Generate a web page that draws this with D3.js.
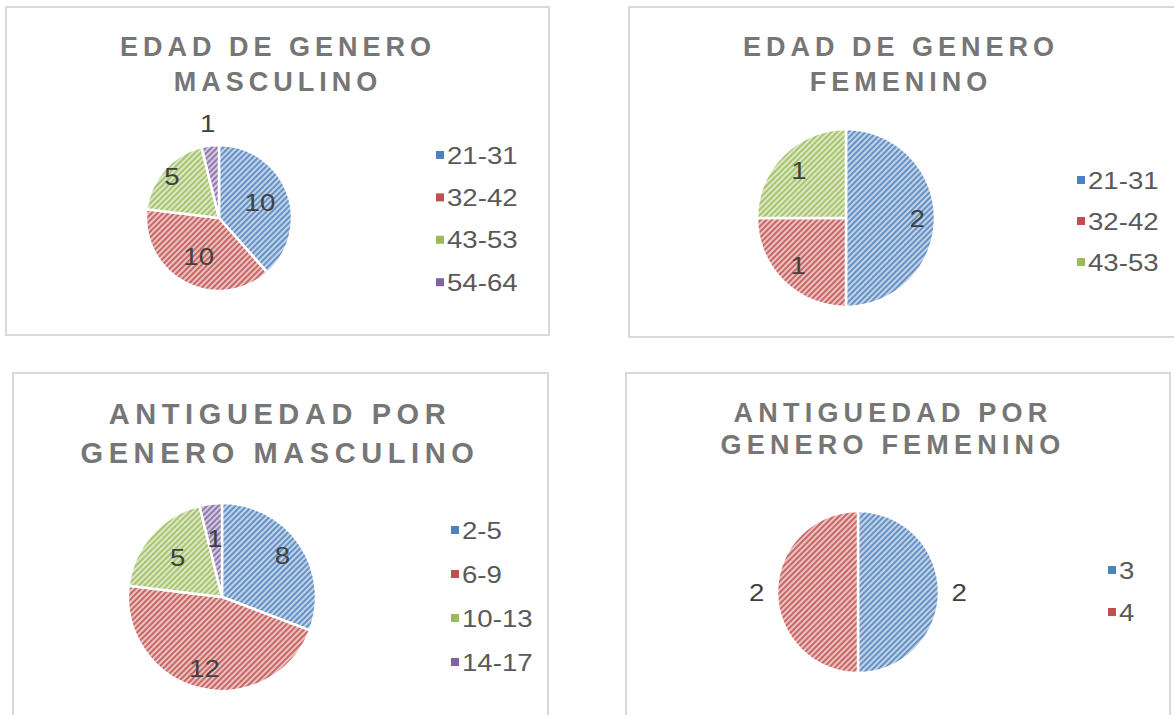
<!DOCTYPE html>
<html>
<head>
<meta charset="utf-8">
<script src="https://cdn.jsdelivr.net/npm/d3@7"></script>
<style>
  body { margin: 0; background: #fff; }
  svg { display: block; font-family: "Liberation Sans", Arial, sans-serif; }
</style>
</head>
<body>
<svg id="chart" width="1174" height="715"></svg>
<script>
// data
const edadCategorias = ["21-31", "32-42", "43-53", "54-64"];
const edadMasculino = [10, 10, 5, 1];
const edadFemCategorias = ["21-31", "32-42", "43-53"];
const edadFemenino = [2, 1, 1];
const antigMascCategorias = ["2-5", "6-9", "10-13", "14-17"];
const antigMasculino = [8, 12, 5, 1];
const antigFemCategorias = ["3", "4"];
const antigFemenino = [2, 2];

const palette = ["#4F81BD", "#C0504D", "#9BBB59", "#8064A2"];
const stretch = 1.15; // text in the picture is a bit wide

const charts = [
  { box: [6, 7, 543, 328], title: ["EDAD DE GENERO", "MASCULINO"], titleX: 278, titleY: [56, 91], size: 27, ls: 5,
    cats: edadCategorias, values: edadMasculino,
    cx: 219, cy: 218, r: 73, labelR: [0.6, 0.6, 0.86, 1.3],
    legX: 436, legY: 155, legStep: 42.4 },
  { box: [629, 7, 560, 330], title: ["EDAD DE GENERO", "FEMENINO"], titleX: 901, titleY: [56, 91], size: 27, ls: 5,
    cats: edadFemCategorias, values: edadFemenino,
    cx: 846, cy: 218, r: 89, labelR: [0.8, 0.76, 0.75],
    legX: 1077, legY: 180, legStep: 41 },
  { box: [13, 373, 535, 360], title: ["ANTIGUEDAD POR", "GENERO MASCULINO"], titleX: 280, titleY: [424, 463], size: 29, ls: 5.6,
    cats: antigMascCategorias, values: antigMasculino,
    cx: 222, cy: 597, r: 94, labelR: [0.78, 0.78, 0.63, 0.63],
    legX: 451, legY: 530, legStep: 44 },
  { box: [626, 373, 544, 360], title: ["ANTIGUEDAD POR", "GENERO FEMENINO"], titleX: 893, titleY: [422, 454], size: 27, ls: 5.2,
    cats: antigFemCategorias, values: antigFemenino,
    cx: 858, cy: 592, r: 81, labelR: [1.25, 1.25],
    legX: 1108, legY: 570, legStep: 42 }
];

const svg = d3.select("#chart");
const defs = svg.append("defs");

palette.forEach((c, i) => {
  const p = defs.append("pattern")
      .attr("id", "hatch" + i)
      .attr("patternUnits", "userSpaceOnUse")
      .attr("width", 4)
      .attr("height", 4)
      .attr("patternTransform", "rotate(45)");
  p.append("rect")
      .attr("width", 4).attr("height", 4)
      .attr("fill", d3.interpolateRgb(c, "#fff")(0.65));
  p.append("line")
      .attr("x1", 1).attr("y1", 0).attr("x2", 1).attr("y2", 4)
      .attr("stroke", c)
      .attr("stroke-width", 1.6);
});

charts.forEach(ch => {
  const g = svg.append("g");

  g.append("rect")
      .attr("x", ch.box[0]).attr("y", ch.box[1])
      .attr("width", ch.box[2]).attr("height", ch.box[3])
      .attr("fill", "#fff")
      .attr("stroke", "#d9d9d9")
      .attr("stroke-width", 2);

  g.selectAll(".title")
      .data(ch.title)
      .enter()
      .append("text")
      .attr("x", ch.titleX)
      .attr("y", (d, i) => ch.titleY[i])
      .attr("text-anchor", "middle")
      .attr("font-size", ch.size)
      .attr("font-weight", "bold")
      .attr("letter-spacing", ch.ls)
      .attr("fill", "#767676")
      .text(d => d);

  const color = d3.scaleOrdinal().domain(ch.cats).range(palette);
  const pie = d3.pie().sort(null).value(d => d.v);
  const arcs = pie(ch.cats.map((c, i) => ({ c, v: ch.values[i] })));
  const arc = d3.arc().innerRadius(0).outerRadius(ch.r);

  const pg = g.append("g").attr("transform", `translate(${ch.cx},${ch.cy})`);

  pg.selectAll("path")
      .data(arcs)
      .enter()
      .append("path")
      .attr("d", arc)
      .attr("fill", d => `url(#hatch${palette.indexOf(color(d.data.c))})`)
      .attr("stroke", "#fff")
      .attr("stroke-width", 2.5)
      .attr("stroke-linejoin", "round");

  pg.selectAll(".lbl")
      .data(arcs)
      .enter()
      .append("text")
      .attr("class", "lbl")
      .attr("transform", (d, i) => {
        const a = (d.startAngle + d.endAngle) / 2;
        const rr = ch.r * ch.labelR[i];
        return `translate(${Math.sin(a) * rr},${-Math.cos(a) * rr}) scale(${stretch},1)`;
      })
      .attr("dy", "0.36em")
      .attr("text-anchor", "middle")
      .attr("font-size", 24)
      .attr("fill", "#404040")
      .text(d => d.data.v);

  const leg = g.selectAll(".leg")
      .data(ch.cats)
      .enter()
      .append("g")
      .attr("transform", (d, i) => `translate(${ch.legX},${ch.legY + i * ch.legStep})`);

  leg.append("rect")
      .attr("x", 0).attr("y", -4)
      .attr("width", 8).attr("height", 8)
      .attr("fill", d => color(d));

  leg.append("text")
      .attr("transform", `translate(11,0) scale(${stretch},1)`)
      .attr("dy", "0.36em")
      .attr("font-size", 24)
      .attr("fill", "#595959")
      .text(d => d);
});
</script>
</body>
</html>
